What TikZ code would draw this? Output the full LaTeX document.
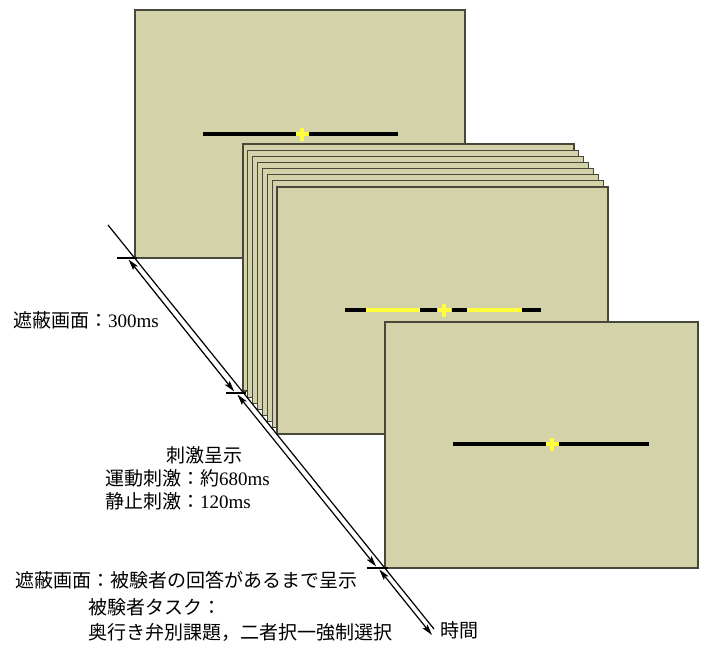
\documentclass[tikz,border=0pt]{standalone}
\usepackage{fontspec}
\setmainfont{Noto Sans CJK JP}
\newfontfamily\tm{Liberation Serif}
\usetikzlibrary{arrows.meta,calc}
\definecolor{scrfill}{RGB}{212,210,168}
\definecolor{scrline}{RGB}{72,72,58}
\definecolor{crossy}{RGB}{255,255,60}
\begin{document}
\begin{tikzpicture}[x=1pt,y=-1pt,
  scr/.style={fill=scrfill,draw=scrline,line width=1.2pt,inner sep=0pt,outer sep=0pt},
  bar/.style={black,line width=4pt},
  ybar/.style={crossy,line width=4pt},
  crs/.style={crossy,line width=3.5pt},
  axis/.style={black,line width=1.2pt},
  dbl/.style={black,line width=1.2pt,{Stealth[length=11pt,width=6pt,inset=2pt]}-{Stealth[length=11pt,width=6pt,inset=2pt]}},
  lab/.style={inner sep=0pt,font=\fontsize{19}{23}\selectfont}]
\useasboundingbox (0,0) rectangle (704,646);
% first mask screen
\node[scr,minimum width=330pt,minimum height=248pt] (f1) at (300,134) {};
\draw[bar] (203,134) -- (398,134);
\draw[crs] (295.5,134) -- (308.5,134) (302,127.5) -- (302,140.5);
% stimulus stack
\foreach \k in {0,...,7}{
  \node[scr,minimum width=331pt,minimum height=247pt] (s\k) at ({243+4.86*\k+165.5},{144+6.14*\k+123.5}) {};
}
\draw[bar] (345,310) -- (366,310);
\draw[ybar] (366,310) -- (420,310);
\draw[bar] (420,310) -- (437,310);
\draw[bar] (452,310) -- (467,310);
\draw[ybar] (467,310) -- (522,310);
\draw[bar] (522,310) -- (541,310);
\draw[crs] (437.5,310) -- (450.5,310) (444,303.5) -- (444,316.5);
% second mask screen
\node[scr,minimum width=313pt,minimum height=246pt] (f3) at (541.5,445) {};
\draw[bar] (453,444) -- (649,444);
\draw[crs] (545.5,444) -- (558.5,444) (552,437.5) -- (552,450.5);
% time axis
\coordinate (a0) at (108,225);
\coordinate (t1) at (135,258);
\coordinate (t2) at (244,393);
\coordinate (t3) at (385,568);
\coordinate (a1) at (434,629);
\coordinate (k1) at (117,258);
\coordinate (k2) at (226,393);
\coordinate (k3) at (367,568);
\coordinate (e1) at (137,258);
\coordinate (e2) at (246,393);
\coordinate (e3) at (388,568);
\draw[axis] (a0) -- (a1);
\draw[axis] (k1) -- (e1);
\draw[axis] (k2) -- (e2);
\draw[axis] (k3) -- (e3);
\coordinate (i1s) at (128.6,259.5);
\coordinate (i1e) at (234.2,391.5);
\coordinate (i2s) at (237.4,394.5);
\coordinate (i2e) at (376.1,566.5);
\coordinate (i3s) at (379.3,569.5);
\coordinate (i3e) at (432,635);
\draw[dbl] (i1s) -- (i1e);
\draw[dbl] (i2s) -- (i2e);
\draw[dbl] (i3s) -- (i3e);
% labels
\node[lab,anchor=west] (l1) at (13,320) {遮蔽画面：{\tm 300ms}};
\node[lab] (l2) at (204,455) {刺激呈示};
\node[lab,anchor=west] (l3) at (105,478) {運動刺激：約{\tm 680ms}};
\node[lab,anchor=west] (l4) at (105,501) {静止刺激：{\tm 120ms}};
\node[lab,anchor=west] (l5) at (15,580) {遮蔽画面：被験者の回答があるまで呈示};
\node[lab,anchor=west] (l6) at (88,607) {被験者タスク：};
\node[lab,anchor=west] (l7) at (88,632) {奥行き弁別課題，二者択一強制選択};
\node[lab,anchor=west] (l8) at (440,630) {時間};
\end{tikzpicture}
\end{document}
